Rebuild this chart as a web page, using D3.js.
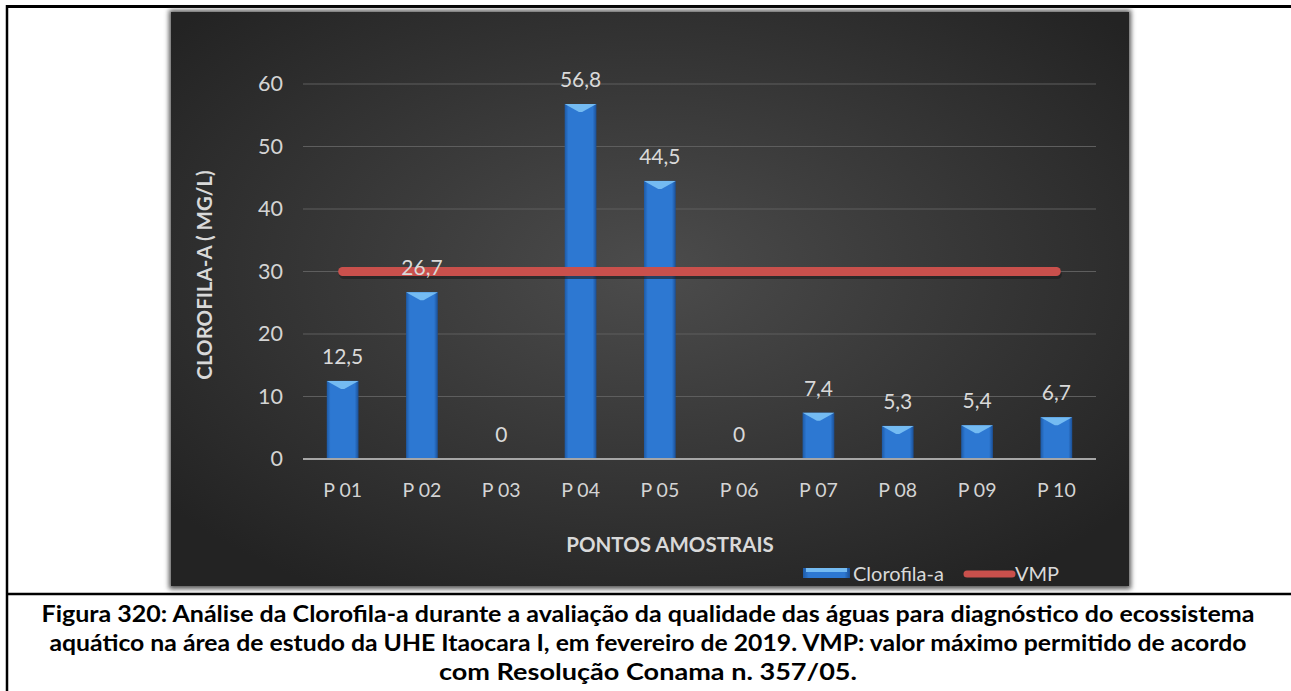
<!DOCTYPE html>
<meta charset="utf-8">
<style>
    body { margin: 0; background: #fff; }
    svg { display: block; }
    .tick text { font-family: Lato, "Open Sans", sans-serif; fill: #d4d4d4; }
    .caption { font-family: Lato, "Open Sans", sans-serif; font-weight: bold; font-size: 22.5px; fill: #000; }
</style>
<svg width="1291" height="691"></svg>
<script src="https://cdn.jsdelivr.net/npm/d3@7"></script>
<script>

    var pontos = ["P 01", "P 02", "P 03", "P 04", "P 05", "P 06", "P 07", "P 08", "P 09", "P 10"];
    var clorofila = [12.5, 26.7, 0, 56.8, 44.5, 0, 7.4, 5.3, 5.4, 6.7];
    var vmp = [30, 30, 30, 30, 30, 30, 30, 30, 30, 30];
    var yTicks = [0, 10, 20, 30, 40, 50, 60];
    var captionLines = [
        "Figura 320: Análise da Clorofila-a durante a avaliação da qualidade das águas para diagnóstico do ecossistema",
        "aquático na área de estudo da UHE Itaocara I, em fevereiro de 2019. VMP: valor máximo permitido de acordo",
        "com Resolução Conama n. 357/05."
    ];
    var captionWidths = [1213, 1197, 418];

    var svg = d3.select("svg");
    var defs = svg.append("defs");
    var font = "Lato, 'Open Sans', sans-serif";

    // outer frame
    svg.append("line").attr("x1", 7).attr("x2", 1291).attr("y1", 6.5).attr("y2", 6.5)
        .attr("stroke", "#000").attr("stroke-width", 3);
    svg.append("line").attr("x1", 7).attr("x2", 1291).attr("y1", 594).attr("y2", 594)
        .attr("stroke", "#000").attr("stroke-width", 2.5);
    svg.append("line").attr("x1", 7).attr("x2", 7).attr("y1", 5).attr("y2", 691)
        .attr("stroke", "#000").attr("stroke-width", 2.5);

    // dark panel
    var bg = defs.append("radialGradient").attr("id", "bg").attr("cx", "50%").attr("cy", "45%").attr("r", "65%");
    bg.append("stop").attr("offset", "0%").attr("stop-color", "#4c4c4c");
    bg.append("stop").attr("offset", "100%").attr("stop-color", "#232323");
    var blur = defs.append("filter").attr("id", "shadow").attr("x", "-5%").attr("y", "-5%").attr("width", "110%").attr("height", "110%");
    blur.append("feGaussianBlur").attr("stdDeviation", 2.5);

    svg.append("rect").attr("x", 169).attr("y", 10).attr("width", 962).attr("height", 579)
        .attr("fill", "#555").attr("filter", "url(#shadow)");
    svg.append("rect").attr("x", 171).attr("y", 12).attr("width", 958).attr("height", 574)
        .attr("fill", "url(#bg)");

    var margin = { left: 303, right: 1096, top: 84, bottom: 459 };

    var x = d3.scaleBand().domain(pontos).range([margin.left, margin.right]).paddingInner(0.6).paddingOuter(0.3);
    var y = d3.scaleLinear().domain([0, 60]).range([margin.bottom, margin.top]);

    // gridlines
    svg.append("g").selectAll("line").data(yTicks.slice(1)).join("line")
        .attr("x1", margin.left).attr("x2", margin.right)
        .attr("y1", d => y(d)).attr("y2", d => y(d))
        .attr("stroke", "#5e5e5e").attr("stroke-width", 1);

    // y axis
    var yAxis = svg.append("g").attr("transform", "translate(" + (margin.left - 6) + ",0)")
        .call(d3.axisLeft(y).tickValues(yTicks).tickSize(0).tickPadding(14));
    yAxis.select(".domain").remove();
    yAxis.selectAll("text").style("font-size", "21.5px");

    // bars
    var barGrad = defs.append("linearGradient").attr("id", "bar").attr("x1", 0).attr("x2", 1).attr("y1", 0).attr("y2", 0);
    barGrad.append("stop").attr("offset", "0%").attr("stop-color", "#1d5aa6");
    barGrad.append("stop").attr("offset", "12%").attr("stop-color", "#2d78d2");
    barGrad.append("stop").attr("offset", "88%").attr("stop-color", "#2d78d2");
    barGrad.append("stop").attr("offset", "100%").attr("stop-color", "#1b4f95");

    var bars = svg.append("g").selectAll("g").data(pontos).join("g");
    bars.filter((d, i) => clorofila[i] > 0).append("rect")
        .attr("x", d => x(d)).attr("width", x.bandwidth())
        .attr("y", d => y(clorofila[pontos.indexOf(d)]))
        .attr("height", d => y(0) - y(clorofila[pontos.indexOf(d)]))
        .attr("fill", "url(#bar)");
    // top bevel
    bars.filter((d, i) => clorofila[i] > 0).append("path")
        .attr("d", function (d) {
            var x0 = x(d), w = x.bandwidth(), t = y(clorofila[pontos.indexOf(d)]);
            return "M" + x0 + "," + t + "L" + (x0 + w) + "," + t + "L" + (x0 + w * 0.55) + "," + (t + 8) + "L" + (x0 + w * 0.45) + "," + (t + 8) + "Z";
        })
        .attr("fill", "#74bbf2");

    // baseline
    svg.append("line").attr("x1", margin.left).attr("x2", margin.right)
        .attr("y1", y(0)).attr("y2", y(0)).attr("stroke", "#a6a6a6").attr("stroke-width", 2);

    // VMP line
    var line = d3.line().x(d => x(d) + x.bandwidth() / 2).y((d, i) => y(vmp[i]));
    svg.append("path").datum(pontos).attr("d", line)
        .attr("transform", "translate(1,3)")
        .attr("fill", "none").attr("stroke", "#1c1c1c").attr("stroke-opacity", 0.6)
        .attr("stroke-width", 9).attr("stroke-linecap", "round");
    svg.append("path").datum(pontos).attr("d", line)
        .attr("fill", "none").attr("stroke", "#c9504c")
        .attr("stroke-width", 9).attr("stroke-linecap", "round");

    // value labels
    svg.append("g").selectAll("text").data(pontos).join("text")
        .attr("x", d => x(d) + x.bandwidth() / 2)
        .attr("y", (d, i) => y(clorofila[i]) - 17)
        .attr("text-anchor", "middle")
        .style("font-family", font).style("font-size", "21px")
        .attr("fill", "#d9d9d9")
        .text((d, i) => String(clorofila[i]).replace(".", ","));

    // x axis
    var xAxis = svg.append("g").attr("transform", "translate(0," + y(0) + ")")
        .call(d3.axisBottom(x).tickSize(0).tickPadding(24));
    xAxis.select(".domain").remove();
    xAxis.selectAll("text").style("font-size", "19.5px");

    // axis titles
    svg.append("text").attr("x", 670).attr("y", 552).attr("text-anchor", "middle")
        .style("font-family", font).style("font-weight", "bold").style("font-size", "20.5px")
        .attr("fill", "#d9d9d9").text("PONTOS AMOSTRAIS");
    svg.append("text").attr("transform", "translate(212,275) rotate(-90)").attr("text-anchor", "middle")
        .style("font-family", font).style("font-weight", "bold").style("font-size", "20.5px")
        .attr("fill", "#d9d9d9").text("CLOROFILA-A ( MG/L)");

    // legend
    var lg = svg.append("g");
    lg.append("rect").attr("x", 803).attr("y", 568).attr("width", 47).attr("height", 10).attr("fill", "url(#bar)");
    lg.append("rect").attr("x", 806).attr("y", 568).attr("width", 41).attr("height", 4).attr("fill", "#74bbf2");
    lg.append("text").attr("x", 853).attr("y", 581)
        .style("font-family", font).style("font-size", "20px")
        .attr("fill", "#d9d9d9").text("Clorofila-a");
    lg.append("line").attr("x1", 967).attr("x2", 1012).attr("y1", 574).attr("y2", 574)
        .attr("stroke", "#c9504c").attr("stroke-width", 7).attr("stroke-linecap", "round");
    lg.append("text").attr("x", 1015).attr("y", 581)
        .style("font-family", font).style("font-size", "20px")
        .attr("fill", "#d9d9d9").text("VMP");

    // caption
    svg.append("g").selectAll("text").data(captionLines).join("text")
        .attr("class", "caption")
        .attr("x", 648).attr("y", (d, i) => 622 + i * 29)
        .attr("text-anchor", "middle")
        .attr("textLength", (d, i) => captionWidths[i])
        .attr("lengthAdjust", "spacingAndGlyphs")
        .text(d => d);

</script>
